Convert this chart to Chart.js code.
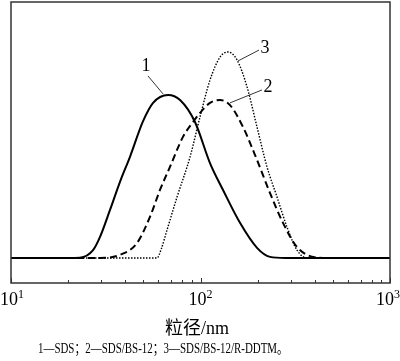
<!DOCTYPE html>
<html>
<head>
<meta charset="utf-8">
<script src="https://cdn.jsdelivr.net/npm/chart.js@4.4.1/dist/chart.umd.min.js"></script>
<style>
  html, body { margin: 0; padding: 0; background: #fff; }
  canvas { display: block; }
</style>
</head>
<body>
<canvas id="chart" width="400" height="361"></canvas>
<script>
// particle size (nm) and relative intensity
const sizeNm1 = [10, 20, 23.1, 27.1, 29.5, 33.3, 37.6, 42.5, 49.7, 56.2, 67.4, 78, 93.5, 112.2, 131.5, 161.6, 198.7, 232.7, 280, 1000];
const intensity1 = [8.9, 8.9, 9.0, 11.7, 16.4, 26.0, 36.0, 45.0, 57.5, 64.1, 66.9, 65.1, 57.3, 42.7, 33.1, 21.4, 12.5, 9.3, 8.9, 8.9];

const sizeNm2 = [10, 29.5, 37.6, 46.2, 54.1, 61.1, 69.0, 80.8, 91.3, 99.4, 112.2, 126.8, 143.1, 167.6, 198.7, 232.7, 272.5, 323.0, 392.4, 482, 1000];
const intensity2 = [8.9, 8.9, 10.0, 14.2, 23.5, 33.1, 41.3, 52.0, 57.3, 60.5, 64.1, 65.1, 63.3, 55.5, 43.8, 32.0, 21.4, 12.8, 9.3, 8.9, 8.9];

const sizeNm3 = [10, 58.9, 62, 66.6, 75.2, 88.0, 99.4, 112.2, 126.8, 139.7, 155.8, 176.0, 198.7, 224.4, 253.4, 286.1, 323.0, 364.8, 1000];
const intensity3 = [8.9, 8.9, 12.0, 18.9, 30.6, 44.8, 59.1, 72.2, 80.4, 82.2, 79.4, 69.8, 55.5, 41.3, 30.6, 19.9, 11.7, 8.9, 8.9];

const tickValues = [10, 100, 1000];
const tickBase = '10';
const tickExps = ['1', '2', '3'];

// curve numbers with their leader lines, in data units
const curveLabels = ['1', '2', '3'];
const labelPos = [[51.6, 77.0], [227.1, 69.8], [218.9, 83.6]];
const leaderFrom = [[52.8, 73.7], [211.1, 68.7], [203.5, 82.9]];
const leaderTo = [[63.4, 67.3], [143.1, 64.1], [157.7, 79.0]];

const axisTitle = '粒径/nm';
const caption = '1—SDS；2—SDS/BS-12；3—SDS/BS-12/R-DDTM。';

const toPoints = (xs, ys) => xs.map((x, i) => ({ x: x, y: ys[i] }));

const serif = '"Liberation Serif", "Times New Roman", "Noto Sans CJK SC", serif';

const framePlugin = {
  id: 'frame',
  afterDraw(chart) {
    const ctx = chart.ctx;
    const area = chart.chartArea;
    const xs = chart.scales.x;
    const ys = chart.scales.y;
    ctx.save();

    // box around the plot
    ctx.strokeStyle = '#333';
    ctx.lineWidth = 1.5;
    ctx.strokeRect(area.left, area.top, area.right - area.left, area.bottom - area.top);

    // inward ticks on the log axis
    ctx.lineWidth = 1;
    for (let exp = 1; exp < 3; exp++) {
      for (let m = 1; m <= 10; m++) {
        const v = m * Math.pow(10, exp);
        const px = Math.round(xs.getPixelForValue(v)) + 0.5;
        const len = (m === 1 || m === 10) ? 5 : 3;
        ctx.beginPath();
        ctx.moveTo(px, area.bottom);
        ctx.lineTo(px, area.bottom - len);
        ctx.stroke();
      }
    }

    // tick labels as 10 with a raised exponent
    ctx.fillStyle = '#000';
    ctx.textBaseline = 'alphabetic';
    const baseY = area.bottom + 22;
    tickValues.forEach((v, i) => {
      ctx.font = '18px ' + serif;
      const wBase = ctx.measureText(tickBase).width;
      ctx.font = '12px ' + serif;
      const wExp = ctx.measureText(tickExps[i]).width;
      const total = wBase + wExp;
      let left = xs.getPixelForValue(v) - total / 2;
      if (left + total > chart.width) left = chart.width - total;
      if (left < 0) left = 0;
      ctx.textAlign = 'left';
      ctx.font = '18px ' + serif;
      ctx.fillText(tickBase, left, baseY);
      ctx.font = '12px ' + serif;
      ctx.fillText(tickExps[i], left + wBase, baseY - 7);
    });

    // curve numbers + leader lines
    ctx.strokeStyle = '#000';
    ctx.lineWidth = 0.8;
    ctx.font = '18px ' + serif;
    ctx.textAlign = 'center';
    ctx.textBaseline = 'middle';
    curveLabels.forEach((lab, i) => {
      ctx.beginPath();
      ctx.moveTo(xs.getPixelForValue(leaderFrom[i][0]), ys.getPixelForValue(leaderFrom[i][1]));
      ctx.lineTo(xs.getPixelForValue(leaderTo[i][0]), ys.getPixelForValue(leaderTo[i][1]));
      ctx.stroke();
      ctx.fillText(lab, xs.getPixelForValue(labelPos[i][0]), ys.getPixelForValue(labelPos[i][1]));
    });

    // axis title
    ctx.font = '18px ' + serif;
    ctx.fillText(axisTitle, 197, 329);

    // caption, squeezed to the width it has in the figure
    ctx.font = '14px ' + serif;
    ctx.textAlign = 'left';
    ctx.textBaseline = 'alphabetic';
    const wCap = ctx.measureText(caption).width;
    ctx.translate(38, 353);
    ctx.scale(250 / wCap, 1);
    ctx.fillText(caption, 0, 0);
    ctx.restore();
  }
};

new Chart(document.getElementById('chart'), {
  type: 'line',
  data: {
    datasets: [
      {
        label: '1',
        data: toPoints(sizeNm1, intensity1),
        borderColor: '#000',
        borderWidth: 2,
        pointRadius: 0,
        cubicInterpolationMode: 'monotone'
      },
      {
        label: '2',
        data: toPoints(sizeNm2, intensity2),
        borderColor: '#000',
        borderWidth: 2,
        borderDash: [7, 4],
        pointRadius: 0,
        cubicInterpolationMode: 'monotone'
      },
      {
        label: '3',
        data: toPoints(sizeNm3, intensity3),
        borderColor: '#000',
        borderWidth: 1.4,
        borderDash: [1.5, 1.5],
        pointRadius: 0,
        cubicInterpolationMode: 'monotone'
      }
    ]
  },
  options: {
    responsive: false,
    animation: false,
    layout: { padding: { left: 11, right: 10, top: 2, bottom: 0 } },
    plugins: {
      legend: { display: false },
      tooltip: { enabled: false }
    },
    scales: {
      x: {
        type: 'logarithmic',
        min: 10,
        max: 1000,
        grid: { display: false, drawTicks: false },
        border: { display: false },
        afterFit: (scale) => {
          scale.height = 78;
          scale.paddingLeft = 0;
          scale.paddingRight = 0;
        },
        ticks: { display: false }
      },
      y: {
        display: false,
        min: 0,
        max: 100
      }
    }
  },
  plugins: [framePlugin]
});
</script>
</body>
</html>
